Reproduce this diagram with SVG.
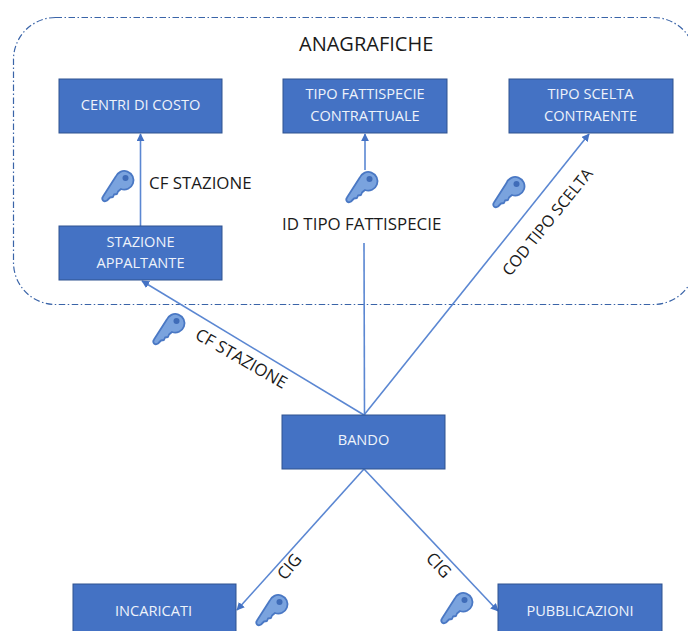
<svg xmlns="http://www.w3.org/2000/svg" width="688" height="631" viewBox="0 0 688 631">
<style>
text{font-family:"Open Sans","Noto Sans","Liberation Sans",sans-serif}
.box{fill:#4472c4;stroke:#2f528f;stroke-width:1}
.bt{fill:#eef3fb;font-size:14.600px;text-anchor:middle}
.lb{fill:#1a1a1a;font-size:16.900px}
.ln{fill:none;stroke:#5b87d2;stroke-width:1.600}
.k{fill:#7aa3de;stroke:#4a78c4;stroke-width:1.800;stroke-linejoin:round}
</style>
<defs>
<marker id="a" viewBox="0 0 10 10" refX="9" refY="5" markerWidth="8" markerHeight="8" markerUnits="userSpaceOnUse" orient="auto"><path d="M0 0L10 5L0 10Z" fill="#4472c4"/></marker>
<g id="key"><path class="k" d="M-8.500 -4A9.300 9.300 0 1 1 -3 8L-6 10.500L-7 13L-10 13.500L-11 16L-14 16.500L-17 19.500Q-20 21 -21 19.500Q-22.500 17.500 -21 15.500L-8.500 -4Z"/><circle cx="1.500" cy="-3" r="3" fill="#3f6cb8"/></g>
</defs>
<rect id="anagrafiche-frame" x="13.500" y="17.500" width="682" height="287" rx="42" fill="none" stroke="#3a64a8" stroke-width="1.200" stroke-dasharray="6.500 2.500 1.500 2.500"/>
<g id="connectors">
<path class="ln" d="M140.500 226V134" marker-end="url(#a)"/>
<path class="ln" d="M365 170V134" marker-end="url(#a)"/>
<path class="ln" d="M364 243L364.500 415"/>
<path class="ln" d="M364 415L589 134" marker-end="url(#a)"/>
<path class="ln" d="M364 415L142 281" marker-end="url(#a)"/>
<path class="ln" d="M364 469L237 610" marker-end="url(#a)"/>
<path class="ln" d="M364 469L498 611" marker-end="url(#a)"/>
</g>
<g id="centri"><rect class="box" x="59" y="79" width="163" height="54"/><text class="bt" x="140.500" y="110">CENTRI DI COSTO</text></g>
<g id="tipo-fattispecie"><rect class="box" x="283" y="79" width="164" height="54"/><text class="bt" x="365" y="99">TIPO FATTISPECIE</text><text class="bt" x="365" y="121">CONTRATTUALE</text></g>
<g id="tipo-scelta"><rect class="box" x="509" y="79" width="164" height="54"/><text class="bt" x="590.500" y="99">TIPO SCELTA</text><text class="bt" x="590.500" y="121">CONTRAENTE</text></g>
<g id="stazione"><rect class="box" x="59" y="226" width="163" height="54"/><text class="bt" x="140.500" y="247">STAZIONE</text><text class="bt" x="140.500" y="268">APPALTANTE</text></g>
<g id="bando"><rect class="box" x="282" y="415" width="163" height="54"/><text class="bt" x="363.500" y="445">BANDO</text></g>
<g id="incaricati"><rect class="box" x="73" y="584" width="163" height="60"/><text class="bt" x="153.500" y="616">INCARICATI</text></g>
<g id="pubblicazioni"><rect class="box" x="498" y="584" width="164" height="60"/><text class="bt" x="580" y="616">PUBBLICAZIONI</text></g>
<use href="#key" x="124" y="181"/>
<use href="#key" x="368" y="182"/>
<use href="#key" x="515" y="187"/>
<use href="#key" x="175" y="324"/>
<use href="#key" x="278" y="605"/>
<use href="#key" x="463" y="603"/>
<text class="lb" x="299" y="51" style="font-size:20px">ANAGRAFICHE</text>
<text class="lb" x="149" y="189">CF STAZIONE</text>
<text class="lb" x="282" y="230">ID TIPO FATTISPECIE</text>
<text class="lb" transform="translate(194 338) rotate(30)">CF STAZIONE</text>
<text class="lb" style="font-size:16px" transform="translate(510 277) rotate(-51)">COD TIPO SCELTA</text>
<text class="lb" transform="translate(285 581) rotate(-50)">CIG</text>
<text class="lb" transform="translate(425 559) rotate(47)">CIG</text>
</svg>
